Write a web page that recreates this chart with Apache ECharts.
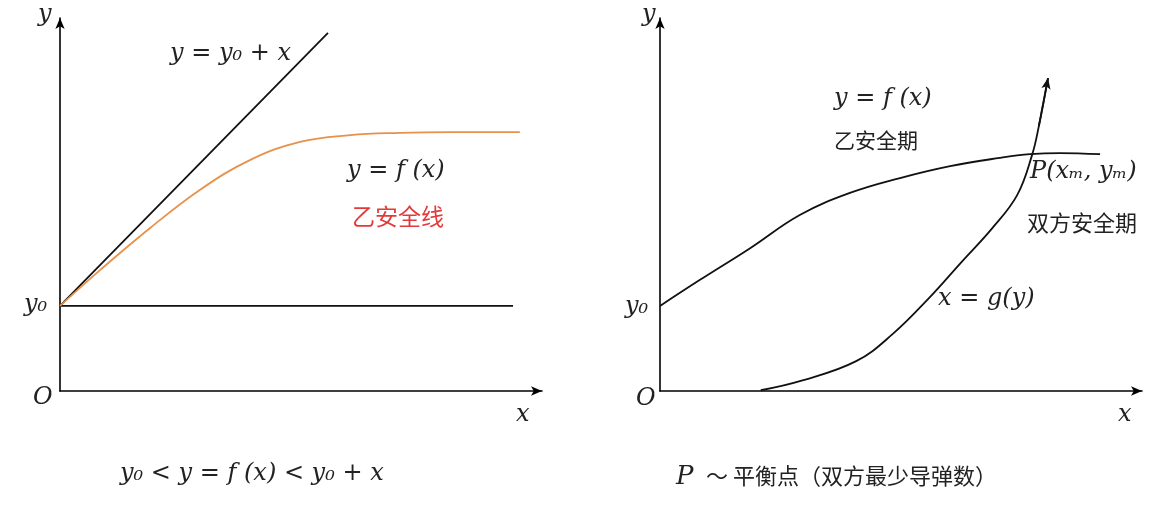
<!DOCTYPE html>
<html>
<head>
<meta charset="utf-8">
<script src="https://cdn.jsdelivr.net/npm/echarts@6/dist/echarts.min.js"></script>
<style>html,body{margin:0;padding:0;background:#fff}#c{width:1167px;height:528px}</style>
</head>
<body>
<div id="c"></div>
<script>
// left panel (units: 0..100 on each axis)
const y0 = 22.8;
const diagX = [0, 55.6];
const diagY = [y0, y0 + 73.2];
const baseX = [0, 94];
const fLeft = [[0, 22.8], [8.3, 32.4], [18.7, 43.7], [29, 53.9], [39.4, 61.9], [49.8, 66.8],
    [60.2, 68.6], [70.5, 69.2], [80.9, 69.4], [95.4, 69.4]];
// right panel
const fRight = [[0, 22.8], [8.3, 29.8], [18.7, 38.3], [29, 47.2], [39.4, 53.1], [49.8, 57.1],
    [60.2, 60.3], [70.5, 62.5], [76.8, 63.5], [83, 63.8], [91.3, 63.5]];
const gRight = [[20.9, 0.2], [29.2, 2.7], [40.7, 8.0], [48.3, 15.3], [55.8, 24.9], [62.5, 34.5],
    [68.9, 43.6], [74.1, 52.5], [77.2, 63.3], [78.6, 71.0], [80.5, 83.9]];

const chart = echarts.init(document.getElementById('c'));
const serif = '"DejaVu Serif", "Liberation Serif", serif';
const cjk = '"Noto Sans CJK SC", sans-serif';

function axis(i) {
    return {
        type: 'value', min: 0, max: 100, gridIndex: i,
        axisLine: {lineStyle: {color: '#000', width: 1.6}, symbol: ['none', 'arrow'], symbolSize: [7, 11]},
        axisTick: {show: false}, axisLabel: {show: false}, splitLine: {show: false}
    };
}

function txt(x, y, text, opt) {
    return {
        type: 'text', left: x, top: y,
        style: Object.assign({text: text, font: 'italic 23px "Liberation Serif", serif', fill: '#222'}, opt || {})
    };
}

function line(xi, data, color) {
    return {
        type: 'line', xAxisIndex: xi, yAxisIndex: xi, data: data, smooth: 0.4, symbol: 'none',
        lineStyle: {color: color || '#111', width: 1.8}, silent: true
    };
}

const n = gRight.length;
const option = {
    animation: false,
    grid: [
        {left: 60, top: 18, width: 482, height: 373},
        {left: 660, top: 18, width: 482, height: 373}
    ],
    xAxis: [axis(0), axis(1)],
    yAxis: [axis(0), axis(1)],
    series: [
        line(0, diagX.map((x, i) => [x, diagY[i]])),
        line(0, baseX.map(x => [x, y0])),
        line(0, fLeft, '#e8914a'),
        line(1, fRight),
        Object.assign(line(1, gRight), {
            markLine: {
                silent: true, symbol: ['none', 'arrow'], symbolSize: [7, 11],
                label: {show: false}, lineStyle: {color: '#111', width: 1.8, type: 'solid'},
                data: [[{coord: gRight[n - 2]}, {coord: gRight[n - 1]}]]
            }
        })
    ],
    graphic: [
        txt(38, 3, 'y', {font: 'italic 24px ' + serif}), txt(24, 293, 'y₀', {font: 'italic 24px ' + serif}),
        txt(33, 386, 'O', {font: 'italic 24px ' + serif}), txt(516, 403, 'x', {font: 'italic 24px ' + serif}),
        txt(170, 42, 'y = y₀ + x', {font: 'italic 24px ' + serif}),
        txt(347, 159, 'y = f (x)', {font: 'italic 24px ' + serif}),
        txt(352, 205, '乙安全线', {font: '23px ' + cjk, fill: '#e23a3a'}),
        txt(120, 462, 'y₀ < y = f (x) < y₀ + x', {font: 'italic 24px ' + serif}),
        txt(642, 3, 'y', {font: 'italic 24px ' + serif}), txt(625, 295, 'y₀', {font: 'italic 24px ' + serif}),
        txt(636, 387, 'O', {font: 'italic 24px ' + serif}), txt(1118, 403, 'x', {font: 'italic 24px ' + serif}),
        txt(834, 87, 'y = f (x)', {font: 'italic 24px ' + serif}),
        txt(834, 130, '乙安全期', {font: '21px ' + cjk}),
        txt(1030, 160, 'P(xₘ, yₘ)', {font: 'italic 24px ' + serif}),
        txt(1027, 212, '双方安全期', {font: '22px ' + cjk}),
        txt(938, 287, 'x = g(y)', {font: 'italic 24px ' + serif}),
        txt(676, 464, 'P', {font: 'italic 26px ' + serif}),
        txt(706, 465, '～ 平衡点（双方最少导弹数）', {font: '22px ' + cjk})
    ]
};
chart.setOption(option);
</script>
</body>
</html>
